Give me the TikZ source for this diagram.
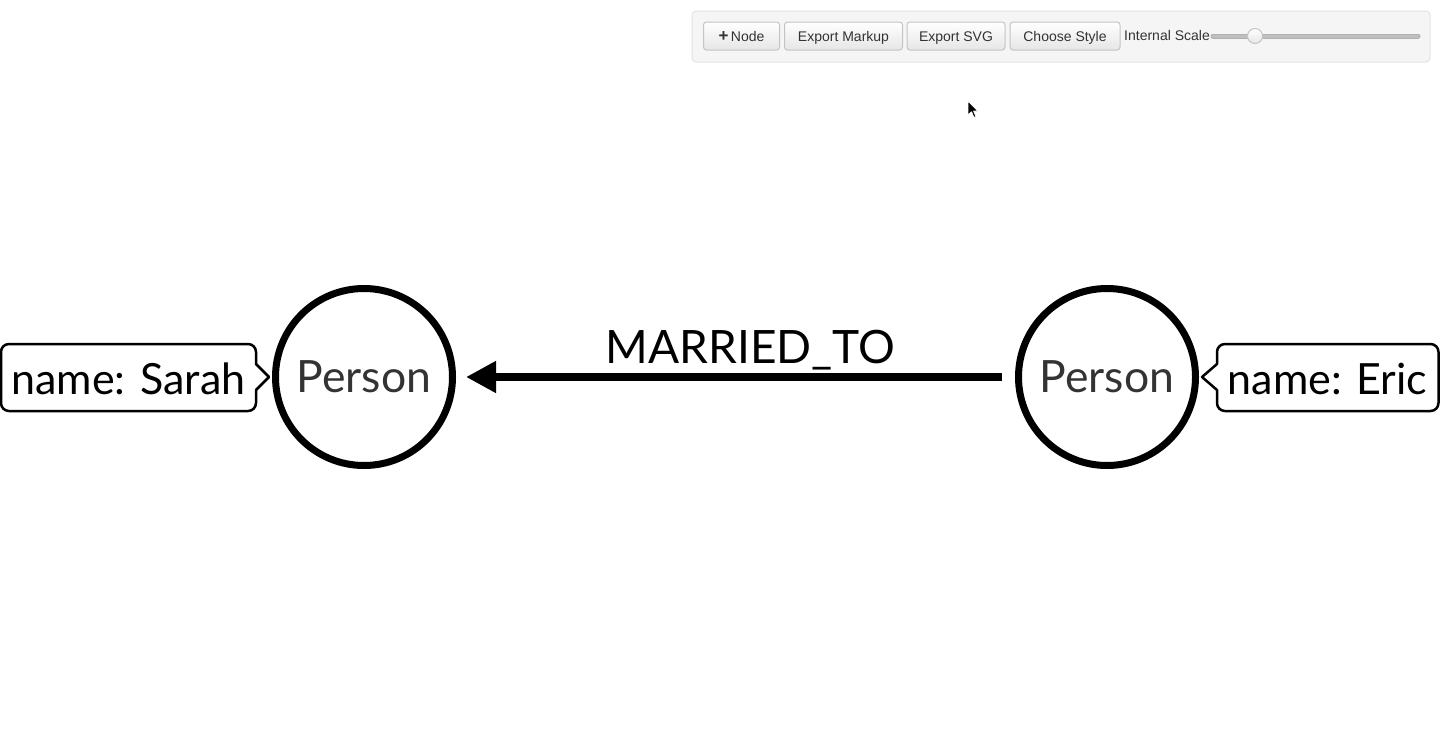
\documentclass[tikz,border=0pt]{standalone}
\usepackage{fontspec}
\setmainfont{Lato}
\newfontfamily\uifont{Liberation Sans}
\usetikzlibrary{arrows.meta,calc}
\definecolor{panelbg}{HTML}{F5F5F5}
\definecolor{panelbd}{HTML}{E3E3E3}
\definecolor{btnbd}{HTML}{C4C4C4}
\definecolor{btnbot}{HTML}{E6E6E6}
\definecolor{uitext}{HTML}{333333}
\definecolor{persontext}{HTML}{333333}
\definecolor{trackc}{HTML}{B0B0B0}
\tikzset{
  btn/.style={draw=btnbd, line width=1pt, rounded corners=3pt, top color=white, bottom color=btnbot, minimum height=28pt, inner sep=0pt, text height=10pt, text depth=0pt, font=\uifont\fontsize{14}{16}\selectfont, text=uitext},
  person/.style={circle, draw=black, line width=7pt, minimum size=177pt, inner sep=0pt, font=\fontsize{44.5}{50}\selectfont, text=persontext},
  prop/.style={font=\fontsize{43}{50}\selectfont, text=black, inner sep=0pt},
  callout/.style={draw=black, line width=2.5pt, fill=white, line join=round},
  rel/.style={line width=8pt, -{Triangle[length=30pt,width=30pt]}},
}
\begin{document}
\begin{tikzpicture}[x=1pt,y=-1pt]
\useasboundingbox[fill=white] (0,0) rectangle (1440,755);
% toolbar panel
\draw[panelbd, fill=panelbg, line width=1pt, rounded corners=4pt] (692,11) rectangle (1430,62);
\node[btn, minimum width=76pt] (bnode) at (741.5,36) {{\fontsize{17}{16}\selectfont\textbf{+}}\,Node};
\node[btn, minimum width=118pt] (bmark) at (843.5,36) {Export Markup};
\node[btn, minimum width=98pt] (bsvg) at (956,36) {Export SVG};
\node[btn, minimum width=110pt] (bstyle) at (1065,36) {Choose Style};
\node[font=\uifont\fontsize{14}{16}\selectfont, text=uitext, anchor=base west, inner sep=0pt] (lscale) at (1124,40) {Internal Scale};
\coordinate (tl) at (1213,36);
\coordinate (tr) at (1418,36);
\draw[line width=5pt, trackc, line cap=round] (tl) -- (tr);
\draw[line width=3pt, black!25, line cap=round] (tl) -- (tr);
\node[circle, draw=btnbd, line width=1pt, top color=white, bottom color=btnbot, minimum size=15pt, inner sep=0pt] (knob) at (1255,36) {};
% mouse cursor
\draw[white, fill=black, line width=0.8pt, line join=round] (968,101) -- (968,115) -- (971.5,111.8) -- (974,117.5) -- (976,116.6) -- (973.6,111) -- (978,111) -- cycle;
% nodes
\node[person] (p1) at (364,377) {Person};
\node[person] (p2) at (1107,377) {Person};
% relationship
\draw[rel, shorten <=13pt, shorten >=10pt] (p2.west) -- (p1.east);
\node[font=\fontsize{46}{50}\selectfont, inner sep=0pt, anchor=base] (rlabel) at (750.5,363) {MARRIED\_TO};
% callouts
\coordinate (stip) at (p1.west);
\draw[callout] (256,364) -- ($(stip)+(-3,0)$) -- (256,390) [rounded corners=8pt] -- (256,411) -- (1,411) -- (1,344) -- (256,344) -- (256,364) [sharp corners] -- cycle;
\node[prop] (sarah) at (128.5,379) {name: Sarah};
\coordinate (etip) at (p2.east);
\draw[callout] (1217,364) -- ($(etip)+(3,0)$) -- (1217,390) [rounded corners=8pt] -- (1217,411) -- (1438.5,411) -- (1438.5,344) -- (1217,344) -- (1217,364) [sharp corners] -- cycle;
\node[prop] (eric) at (1327.5,379) {name: Eric};
\end{tikzpicture}
\end{document}
